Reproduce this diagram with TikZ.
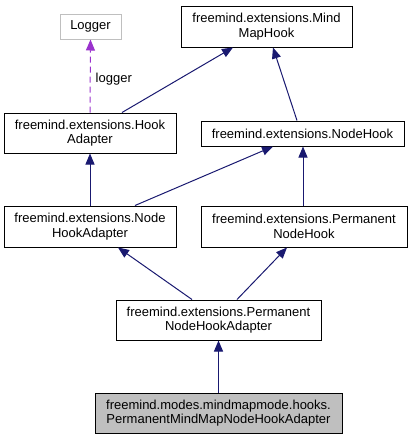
\documentclass[tikz,border=0pt]{standalone}
\usepackage{fontspec}
\setmainfont{Liberation Sans}
\usetikzlibrary{arrows.meta}
\definecolor{edgeblue}{HTML}{191970}
\definecolor{dashpurple}{HTML}{9A32CD}
\definecolor{graybox}{HTML}{BFBFBF}
\begin{document}
\begin{tikzpicture}[x=1pt,y=-1pt,
  box/.style={draw=black,line width=1pt,fill=white,rectangle,inner sep=0pt,align=center,
    font=\fontsize{13}{14.5}\selectfont},
  arr/.style={draw=edgeblue,line width=1pt,-{Triangle[length=11pt,width=9pt]}},
  darr/.style={draw=dashpurple,line width=1pt,dash pattern=on 6pt off 4pt,-{Triangle[length=11pt,width=9pt]}},
  lbl/.style={font=\fontsize{13}{14.5}\selectfont,inner sep=0pt,anchor=west}]
\useasboundingbox (0,0) rectangle (412,440);
\node[box,draw=graybox,minimum width=61pt,minimum height=25pt] (logger) at (90.5,26.5) {Logger};
\node[box,minimum width=171pt,minimum height=41pt] (mmh) at (266.5,26.5) {freemind.extensions.Mind\\MapHook};
\node[box,minimum width=172pt,minimum height=40pt] (ha) at (90,133) {freemind.extensions.Hook\\Adapter};
\node[box,minimum width=203pt,minimum height=25pt] (nh) at (302.5,133.5) {freemind.extensions.NodeHook};
\node[box,minimum width=172pt,minimum height=41pt] (nha) at (90,226.5) {freemind.extensions.Node\\HookAdapter};
\node[box,minimum width=206pt,minimum height=41pt] (pnh) at (304,226.5) {freemind.extensions.Permanent\\NodeHook};
\node[box,minimum width=205pt,minimum height=40pt] (pnha) at (218.5,320) {freemind.extensions.Permanent\\NodeHookAdapter};
\node[box,fill=graybox,minimum width=247pt,minimum height=40pt] (pmm) at (218.5,413) {freemind.modes.mindmapmode.hooks.\\PermanentMindMapNodeHookAdapter};
\draw[darr] (ha.north) -- (logger.south) node[lbl,pos=0.46,xshift=5pt] (lg) {logger};
\draw[arr] ([xshift=32pt]ha.north) -- ([xshift=-33.5pt]mmh.south);
\draw[arr] ([xshift=-5.5pt]nh.north) -- ([xshift=6.5pt]mmh.south);
\draw[arr] (nha.north) -- (ha.south);
\draw[arr] ([xshift=45pt]nha.north) -- ([xshift=-29.5pt]nh.south);
\draw[arr] ([xshift=-1pt]pnh.north) -- ([xshift=0.5pt]nh.south);
\draw[arr] ([xshift=-26.5pt]pnha.north) -- ([xshift=28pt]nha.south);
\draw[arr] ([xshift=18.5pt]pnha.north) -- ([xshift=-17pt]pnh.south);
\draw[arr] (pmm.north) -- (pnha.south);
\end{tikzpicture}
\end{document}
